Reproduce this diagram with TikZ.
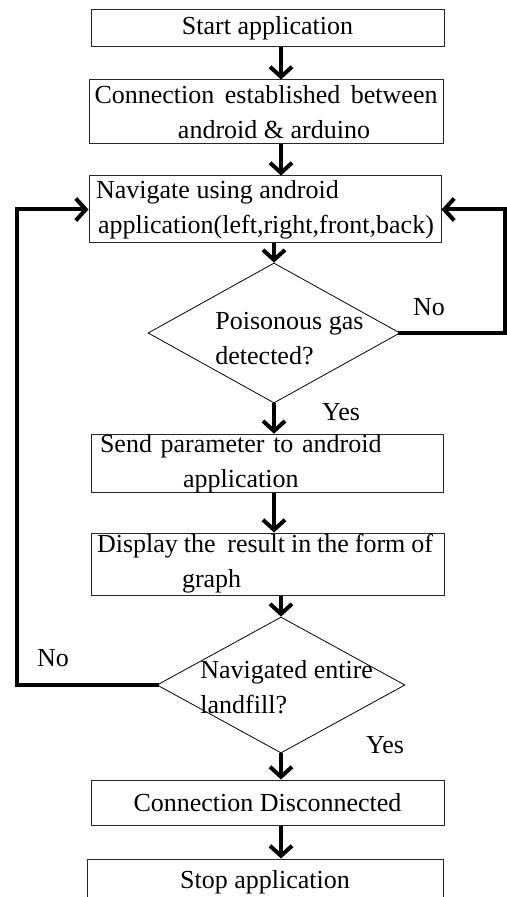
\documentclass[tikz,border=0pt]{standalone}
\usepackage{fontspec}
\setmainfont{Liberation Serif}
\usepackage{tikz}
\usetikzlibrary{arrows.meta}
\usetikzlibrary{shapes.geometric}

\begin{document}
\begin{tikzpicture}[
x=0.5pt, y=-0.5pt,
MyBox/.style={draw=black!85,line width=0.5pt,minimum height=#1,inner sep=0pt},
MyBox/.default=18pt,
MyDiamond/.style={draw,line width=0.4pt,shape=diamond,inner sep=0pt,minimum width=126pt,minimum height=70pt},
MyText/.style={font=\fontsize{13}{17.5}\selectfont},
Flow/.style={line width=2pt,-{Straight Barb[length=5pt,width=11pt]}},
Loop/.style={line width=2pt,line cap=rect,-{Straight Barb[length=5pt,width=11pt]}},
every node/.style={MyText}
]
\useasboundingbox (0,0) rectangle (507,897);
\clip (0,0) rectangle (507,897);

% boxes
\node[MyBox=18.5pt, minimum width=176.5pt] (start) at (267.5,28.5) {Start application};
\node[MyBox=32pt, minimum width=177pt, align=center] (conn) at (266,112)
  {\makebox[171.5pt][s]{Connection established between}\\ \hspace*{8pt}android \& arduino};
\node[MyBox=33.5pt, minimum width=176pt, align=left] (nav) at (265,209.5)
  {Navigate using android\\\hspace*{1pt}application(left,right,front,back)};

% poisonous gas test
\node[MyDiamond] (gas) at (274,333) {};
\node[anchor=north west, inner sep=0pt, align=left] (gastxt) at (215,312)
  {Poisonous gas\\detected?};

\node[MyBox=28.5pt, minimum width=176pt, inner xsep=4.5pt, text width=167pt, align=left] (send) at (267,463.5)
  {\makebox[141.5pt][s]{Send parameter to android}\\\hspace*{41.5pt}application};
\node[MyBox=31pt, minimum width=176.5pt, inner xsep=3pt, text width=170.5pt, align=left] (disp) at (267.5,564)
  {\makebox[168pt][s]{Display\hfill the\hfill\hfill result\hfill in\hfill the\hfill form\hfill of}\\\hspace*{42.5pt}graph};

% landfill test
\node[MyDiamond, minimum width=124pt, minimum height=68pt] (land) at (281,685) {};
\node[anchor=north west, inner sep=0pt, align=left] (landtxt) at (200,660)
  {Navigated entire\\landfill?};

\node[MyBox=22.5pt, minimum width=176.5pt] (disc) at (267.5,802.5) {Connection Disconnected};
\node[MyBox=23pt, minimum width=178pt] (stop) at (265,882) {Stop application};

% answers
\node (noA) at (429,307) {No};
\node (yesA) at (341,412) {Yes};
\node (noB) at (53,658) {No};
\node (yesB) at (385,745) {Yes};

\coordinate (L) at (17,0);
\coordinate (R) at (505,0);

\draw[Flow] (start.south -| land.north) -- (conn.north -| land.north);
\draw[Flow] (conn.south -| land.north) -- (nav.north -| land.north);
\draw[Flow] (nav.south -| gas.north) -- (gas.north);
\draw[Flow] (gas.south) -- (send.north -| gas.south);
\draw[Flow] (send.south -| gas.south) -- (disp.north -| gas.south);
\draw[Flow] (disp.south -| land.north) -- (land.north);
\draw[Flow] (land.south) -- (disc.north -| land.south);
\draw[Flow] (disc.south -| land.south) -- (stop.north -| land.south);

\draw[Loop] (gas.east) -- (gas.east -| R) |- (nav.east);
\draw[Loop] (land.west) -- (land.west -| L) |- (nav.west);

\end{tikzpicture}
\end{document}
